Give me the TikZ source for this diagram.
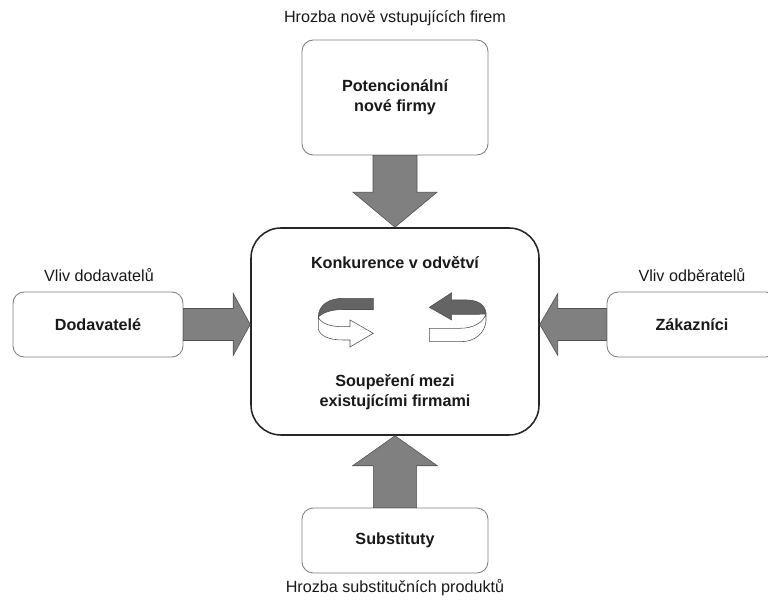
\documentclass[tikz,border=0pt]{standalone}
\usepackage{fontspec}
\setmainfont{Liberation Sans}
\usepackage{tikz}
\usetikzlibrary{calc, positioning}
\usepackage{xcolor}
\definecolor{arrowgray}{RGB}{128,128,128}
\definecolor{edgegray}{RGB}{80,80,80}
\definecolor{bandgray}{RGB}{100,100,100}
\definecolor{boxgray}{RGB}{125,125,125}

% fat arrow: #1 from, #2 to, #3 half shaft, #4 half head, #5 head length
\newcommand{\fatarrow}[5]{%
    \coordinate (ahead) at ($(#2)!#5!(#1)$);
    \filldraw[fatarrow]
        ($(#1)!#3!90:(#2)$) -- ($(ahead)!#3!90:(#2)$) -- ($(ahead)!#4!90:(#2)$)
        -- (#2) -- ($(ahead)!#4!-90:(#2)$) -- ($(ahead)!#3!-90:(#2)$)
        -- ($(#1)!#3!-90:(#2)$) -- cycle;
}

\begin{document}
\begin{tikzpicture}[
        txt/.style={font=\fontsize{11.5}{14.2}\selectfont, text=black!90},
        bold/.style={txt, font=\fontsize{11.5}{14.2}\selectfont\bfseries, align=center},
        box/.style={bold, draw=boxgray, line width=0.6pt, fill=white, rounded corners=0.28cm},
        midbox/.style={draw=black!85, line width=1.1pt, fill=white, rounded corners=0.75cm},
        fatarrow/.style={fill=arrowgray, draw=edgegray, line width=0.4pt, line join=miter},
        band/.style={fill=bandgray, draw=edgegray, line width=0.4pt},
        ribbon/.style={fill=white, draw=edgegray, line width=0.4pt}
    ]
    \useasboundingbox (0,0) rectangle (19.2,15.075);

    % --- Boxes ---
    \node[box, minimum width=4.65cm, minimum height=2.875cm] (firms) at (9.875,12.6375)
        {Potencionální\\nové firmy};
    \node[midbox, minimum width=7.2cm, minimum height=5.175cm] (rivalry) at (9.875,6.7875) {};
    \node[box, minimum width=4.25cm, minimum height=1.625cm] (suppliers) at (2.45,6.9625)
        {Dodavatelé};
    \node[box, minimum width=4.25cm, minimum height=1.625cm] (customers) at (17.3,6.9625)
        {Zákazníci};
    \node[box, minimum width=4.65cm, minimum height=1.625cm] (substitutes) at (9.875,1.5625)
        {Substituty};

    % --- Texts in the middle ---
    \node[bold] (rivalrytitle) at (9.875,8.5) {Konkurence v odvětví};
    \node[bold] (rivalrytext) at (9.875,5.275) {Soupeření mezi\\existujícími firmami};

    % --- Labels of the forces ---
    \node[txt] (threatnew) at (9.875,14.625) {Hrozba nově vstupujících firem};
    \node[txt] (supplierpower) at (2.475,8.2) {Vliv dodavatelů};
    \node[txt] (customerpower) at (17.3,8.2) {Vliv odběratelů};
    \node[txt] (threatsub) at (9.875,0.375) {Hrozba substitučních produktů};

    % --- Arrows ---
    \coordinate (leftin) at (rivalry.west |- suppliers.east);
    \coordinate (rightin) at (rivalry.east |- customers.west);
    \fatarrow{firms.south}{rivalry.north}{0.55cm}{1.05cm}{0.875cm}
    \fatarrow{substitutes.north}{rivalry.south}{0.54cm}{1.06cm}{0.75cm}
    \fatarrow{suppliers.east}{leftin}{0.4cm}{0.775cm}{0.425cm}
    \fatarrow{customers.west}{rightin}{0.4cm}{0.775cm}{0.45cm}

    % --- Circular arrow, left ---
    \begin{scope}[shift={(8.625,7.0)}, x=0.025cm, y=0.025cm]
        \filldraw[band] (28.3,24.7) -- (-2,24.7)
            .. controls (-16,24.7) and (-26.7,18) .. (-26.7,6)
            .. controls (-24,9) and (-16,13.5) .. (-2,13.5) -- (28.3,13.5) -- cycle;
        \filldraw[ribbon] (-26.7,6) -- (-26.7,-6)
            .. controls (-25,-13) and (-16,-17) .. (-2,-17) -- (5,-17) -- (5,-24)
            -- (28.3,-10.3) -- (5,3) -- (5,-3.7) -- (-2,-3.7)
            .. controls (-14,-3.7) and (-24,-1) .. (-26.7,6) -- cycle;
    \end{scope}

    % --- Circular arrow, right ---
    \begin{scope}[shift={(11.425,7.15)}, x=0.025cm, y=0.025cm]
        \filldraw[band] (-27.7,9.7) -- (-5.3,24.3) -- (-5.3,17) -- (10,17)
            .. controls (22,17) and (29,11) .. (29,3)
            .. controls (25,2.7) and (18,2.7) .. (8,2.7) -- (-5.3,2.7) -- (-5.3,-3) -- cycle;
        \filldraw[ribbon] (29,3) -- (29,-4)
            .. controls (28,-16) and (18,-24.7) .. (4,-24.7) -- (-27.7,-24.7)
            -- (-27.7,-11.3) -- (3,-11.3)
            .. controls (16,-11.3) and (26,-6) .. (29,3) -- cycle;
    \end{scope}
\end{tikzpicture}
\end{document}
